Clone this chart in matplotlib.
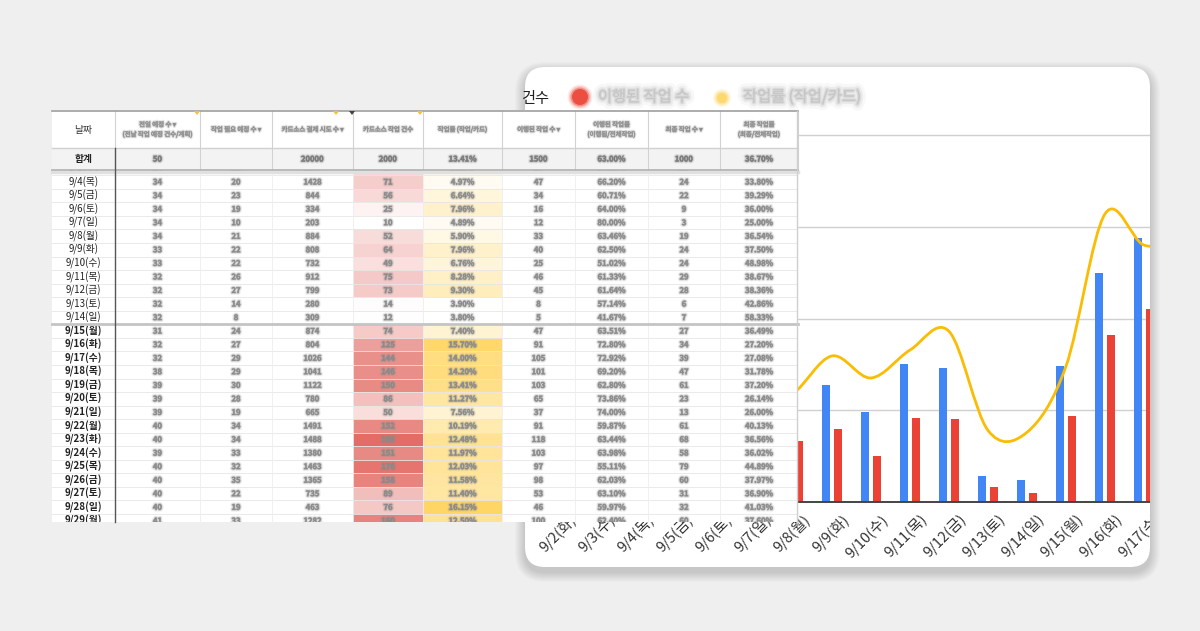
import matplotlib
matplotlib.use("Agg")
import matplotlib.pyplot as plt
import matplotlib.patheffects as pe
from matplotlib.patches import Rectangle, FancyBboxPatch, PathPatch, Circle, Polygon
from matplotlib.path import Path
from matplotlib.colors import LinearSegmentedColormap
from matplotlib.transforms import blended_transform_factory, ScaledTranslation, Bbox, TransformedBbox
import numpy as np

KR = ['Noto Sans CJK KR', 'DejaVu Sans']
plt.rcParams['font.family'] = KR

# ---- data: one entry per day, 9/2 .. 9/29 ----
dates = ['9/2(화)', '9/3(수)', '9/4(목)', '9/5(금)', '9/6(토)', '9/7(일)', '9/8(월)',
         '9/9(화)', '9/10(수)', '9/11(목)', '9/12(금)', '9/13(토)', '9/14(일)', '9/15(월)',
         '9/16(화)', '9/17(수)', '9/18(목)', '9/19(금)', '9/20(토)', '9/21(일)', '9/22(월)',
         '9/23(화)', '9/24(수)', '9/25(목)', '9/26(금)', '9/27(토)', '9/28(일)', '9/29(월)']
prev_plan = [34, 34, 34, 34, 34, 34, 34, 33, 33, 32, 32, 32, 32, 31, 32, 32, 38, 39,
             39, 39, 40, 40, 39, 40, 40, 40, 40, 41]
need_plan = [22, 21, 20, 23, 19, 10, 21, 22, 22, 26, 27, 14, 8, 24, 27, 29, 29, 30,
             28, 19, 34, 34, 33, 32, 35, 22, 19, 33]
pay_try = [1302, 1247, 1428, 844, 334, 203, 884, 808, 732, 912, 799, 280, 309, 874,
           804, 1026, 1041, 1122, 780, 665, 1491, 1488, 1380, 1463, 1365, 735, 463, 1282]
card_work = [62, 57, 71, 56, 25, 10, 52, 64, 49, 75, 73, 14, 12, 74, 125, 144, 146,
             150, 86, 50, 152, 186, 151, 176, 158, 89, 76, 160]
work_rate = [6.1, 5.6, 4.97, 6.64, 7.96, 4.89, 5.9, 7.96, 6.76, 8.28, 9.3, 3.9, 3.8,
             7.4, 15.7, 14.0, 14.2, 13.41, 11.27, 7.56, 10.19, 12.48, 11.97, 12.03,
             11.58, 11.40, 16.15, 12.5]
done_work = [40, 37, 47, 34, 16, 12, 33, 40, 25, 46, 45, 8, 5, 47, 91, 105, 101, 103,
             65, 37, 91, 118, 103, 97, 98, 53, 46, 100]
done_rate = [64.5, 64.9, 66.20, 60.71, 64.00, 80.00, 63.46, 62.50, 51.02, 61.33, 61.64,
             57.14, 41.67, 63.51, 72.80, 72.92, 69.20, 62.80, 73.86, 74.00, 59.87,
             63.44, 63.98, 55.11, 62.03, 63.10, 59.97, 62.4]
final_work = [22, 20, 24, 22, 9, 3, 19, 24, 24, 29, 28, 6, 7, 27, 34, 39, 47, 61, 23,
              13, 61, 68, 58, 79, 60, 31, 32, 60]
final_rate = [35.5, 35.1, 33.80, 39.29, 36.00, 25.00, 36.54, 37.50, 48.98, 38.67, 38.36,
              42.86, 58.33, 36.49, 27.20, 27.08, 31.78, 37.20, 26.14, 26.00, 40.13,
              36.56, 36.02, 44.89, 37.97, 36.90, 41.03, 37.6]

headers = ['날짜', '전일 예정 수 ▾\n(전날 작업 예정 건수/계획)', '작업 필요 예정 수 ▾',
           '카드소스 결제 시도 수 ▾', '카드소스 작업 건수', '작업률 (작업/카드)',
           '이행된 작업 수 ▾', '이행된 작업률\n(이행됨/전체작업)', '최종 작업 수 ▾',
           '최종 작업률\n(최종/전체작업)']
totals = ['합계', '50', '', '20000', '2000', '13.41%', '1500', '63.00%', '1000', '36.70%']

legend_labels = ['이행된 작업 수', '작업률 (작업/카드)']

n_chart = 17            # 9/2 .. 9/18 drawn in the chart (card clips the rest)
first_table_day = 1     # table is scrolled so 9/3 sits under the frozen rows

BLUE, RED, YELLOW = '#4285f4', '#ea4335', '#fbbc04'
W, H = 1200, 631


def px_box(x0, y0, x1, y1):
    # screen-pixel rectangle (top-left origin) -> display bbox for clipping
    return TransformedBbox(Bbox.from_extents(x0 / W, (H - y1) / H, x1 / W, (H - y0) / H),
                           fig.transFigure)


def blurred(color, width):
    # soft halo so the text reads like the blurred screenshot
    return [pe.Stroke(linewidth=width * 2.2, foreground=color, alpha=0.12),
            pe.Stroke(linewidth=width * 1.2, foreground=color, alpha=0.25),
            pe.Stroke(linewidth=width * 0.5, foreground=color, alpha=0.45),
            pe.Normal()]


def blur_text(ax, x, y, s, size, color='#888', width=1.0, clip=None, **kw):
    t = ax.text(x, y, s, fontsize=size, color=color, path_effects=blurred(color, width), **kw)
    if clip is not None:
        t.set_clip_box(clip)
        t.set_clip_on(True)
    return t


def smooth_path(xs, ys):
    pts = np.column_stack([xs, ys]).astype(float)
    verts, codes = [pts[0]], [Path.MOVETO]
    n = len(pts)
    for i in range(n - 1):
        p0 = pts[i - 1] if i > 0 else pts[i]
        p1, p2 = pts[i], pts[i + 1]
        p3 = pts[i + 2] if i + 2 < n else pts[i + 1]
        verts += [p1 + (p2 - p0) / 6, p2 - (p3 - p1) / 6, p2]
        codes += [Path.CURVE4] * 3
    return Path(verts, codes)


fig = plt.figure(figsize=(12, 6.31), dpi=100)
fig.patch.set_facecolor('#efefef')

# background layer, pixel coordinates
ax_bg = fig.add_axes([0, 0, 1, 1], zorder=0)
ax_bg.set_xlim(0, W)
ax_bg.set_ylim(H, 0)
ax_bg.axis('off')

# card with soft shadow
for i in range(1, 11):
    ax_bg.add_patch(FancyBboxPatch((525 - i, 67 - i + 5), 625 + 2 * i, 500 + 2 * i,
                                   boxstyle='round,pad=0,rounding_size=%d' % (20 + i),
                                   facecolor='black', edgecolor='none', alpha=0.017))
card = FancyBboxPatch((525, 67), 625, 500, boxstyle='round,pad=0,rounding_size=20',
                      facecolor='white', edgecolor='none')
ax_bg.add_patch(card)
card_box = px_box(525, 67, 1150, 567)

# chart title tail + legend (blurred in the screenshot)
t = ax_bg.text(521, 98, '건수', fontsize=11, color='#222', ha='left', va='center')
t.set_clip_box(card_box)
for r, a in [(12.5, 0.1), (11, 0.2), (9.5, 0.4), (8, 0.85)]:
    ax_bg.add_patch(Circle((580, 97), r, facecolor=RED, edgecolor='none', alpha=a))
for r, a in [(9.5, 0.1), (8, 0.22), (6.5, 0.4), (5, 0.7)]:
    ax_bg.add_patch(Circle((722, 98), r, facecolor='#fcd45c', edgecolor='none', alpha=a))
for s, x0 in zip(legend_labels, [598, 743]):
    blur_text(ax_bg, x0, 97, s, 11, color='#c6c6c6', width=4.0, ha='left', va='center')

# ---- chart ----
ax = fig.add_axes([539.5 / W, (H - 502) / H, 663 / W, 367 / H], zorder=2)
ax.patch.set_alpha(0)
ax.set_xlim(-0.5, n_chart - 0.5)
ax.set_ylim(0, 200)
ax.axis('off')

x = np.arange(n_chart)
for v in [50, 100, 150, 200]:
    ax.axhline(v, color='#d0d0d0', lw=1, clip_path=card)
b1 = ax.bar(x - 0.155, card_work[:n_chart], width=0.21, color=BLUE, zorder=3)
b2 = ax.bar(x + 0.155, done_work[:n_chart], width=0.21, color=RED, zorder=3)
for p in list(b1) + list(b2):
    p.set_clip_path(card)
ax.axhline(0, color='#444', lw=1.4, zorder=4, clip_path=card)

lab_tr = blended_transform_factory(ax.transData, ax.transAxes) + \
    ScaledTranslation(0.10, -0.10, fig.dpi_scale_trans)
for i in range(n_chart):
    t = ax.text(i, 0, dates[i], transform=lab_tr, rotation=45, rotation_mode='anchor',
                ha='right', va='top', fontsize=10.5, color='#333')
    t.set_clip_box(card_box)
    t.set_clip_on(True)

ax2 = ax.twinx()
ax2.set_zorder(2.5)
ax2.patch.set_alpha(0)
ax2.set_ylim(0, 20)
ax2.axis('off')
line = PathPatch(smooth_path(x, work_rate[:n_chart]), fill=False, edgecolor=YELLOW,
                 lw=2.0, capstyle='round', joinstyle='round', zorder=5)
ax2.add_patch(line)
line.set_clip_path(card)

# ---- spreadsheet layer, pixel coordinates ----
ax_t = fig.add_axes([0, 0, 1, 1], zorder=3)
ax_t.set_xlim(0, W)
ax_t.set_ylim(H, 0)
ax_t.patch.set_alpha(0)
ax_t.axis('off')

col_edges = [52, 115, 200, 272, 353, 423, 502, 575, 648, 720, 798]
tab_top, head_bot, sum_bot, tab_bot = 111, 148, 170, 522
row_h = 13.55
row0 = 168.5
centers = [(col_edges[c] + col_edges[c + 1]) / 2 for c in range(len(col_edges) - 1)]

ax_t.add_patch(Rectangle((52, 110), 746, tab_bot - 110, facecolor='white', edgecolor='none'))
data_clip = Rectangle((52, sum_bot), 746, tab_bot - sum_bot, transform=ax_t.transData)
data_box = px_box(52, sum_bot, 798, tab_bot)

reds = LinearSegmentedColormap.from_list('reds', ['#ffffff', '#e36d66'])
yels = LinearSegmentedColormap.from_list('yels', ['#ffffff', '#ffd666'])
tab_days = range(first_table_day, len(dates))
cw = [card_work[j] for j in tab_days]
wr = [work_rate[j] for j in tab_days]

for k, j in enumerate(tab_days):
    yc = row0 + row_h * k
    y0 = yc - row_h / 2
    for c, cmap, vals in [(4, reds, cw), (5, yels, wr)]:
        f = (vals[k] - min(vals)) / (max(vals) - min(vals))
        r = Rectangle((col_edges[c], y0), col_edges[c + 1] - col_edges[c], row_h,
                      facecolor=cmap(f), edgecolor='none')
        ax_t.add_patch(r)
        r.set_clip_path(data_clip)
    ln = ax_t.plot([52, 798], [y0 + row_h, y0 + row_h], color='#e6e6e6', lw=0.6)[0]
    ln.set_clip_path(data_clip)

    t = ax_t.text(centers[0], yc, dates[j], fontsize=7, color='#222', ha='center',
                  va='center', fontweight='bold' if j >= 13 else 'normal')
    t.set_clip_box(data_box)
    t.set_clip_on(True)
    cells = [prev_plan[j], need_plan[j], pay_try[j], card_work[j],
             '%.2f%%' % work_rate[j], done_work[j], '%.2f%%' % done_rate[j],
             final_work[j], '%.2f%%' % final_rate[j]]
    for c, s in enumerate(cells, start=1):
        blur_text(ax_t, centers[c], yc, str(s), 5.5, color='#8a8a8a', width=1.3,
                  ha='center', va='center', fontweight='bold', clip=data_box)

for xe in col_edges[2:-1]:
    ln = ax_t.plot([xe, xe], [sum_bot, tab_bot], color='#eeeeee', lw=0.6)[0]
    ln.set_clip_path(data_clip)

# frozen header + total rows
ax_t.add_patch(Rectangle((52, tab_top), 746, head_bot - tab_top, facecolor='white',
                         edgecolor='none', zorder=4))
ax_t.add_patch(Rectangle((52, head_bot), 746, sum_bot - head_bot, facecolor='#f3f3f3',
                         edgecolor='none', zorder=4))
for xe in col_edges[1:]:
    ax_t.plot([xe, xe], [tab_top, sum_bot], color='#d2d2d2', lw=0.8, zorder=5)
ax_t.plot([52, 798], [tab_top, tab_top], color='#9e9e9e', lw=1.2, zorder=5)
ax_t.plot([52, 798], [head_bot, head_bot], color='#d0d0d0', lw=1, zorder=5)
ax_t.plot([52, 798], [sum_bot + 1.5, sum_bot + 1.5], color='#e0e0e0', lw=2.5, zorder=5)
ax_t.plot([52, 798], [sum_bot, sum_bot], color='#b5b5b5', lw=1.3, zorder=5)
sep = row0 + row_h * 11.5
ax_t.plot([52, 798], [sep, sep], color='#c4c4c4', lw=2, zorder=5)
ax_t.plot([115, 115], [head_bot, tab_bot], color='#555', lw=1, zorder=5)
ax_t.plot([797, 797], [tab_top, tab_bot], color='#cfcfcf', lw=1, zorder=5)

ax_t.text(centers[0], (tab_top + head_bot) / 2, headers[0], fontsize=7, color='#333',
          ha='center', va='center', zorder=6)
ax_t.text(centers[0], (head_bot + sum_bot) / 2, totals[0], fontsize=7, color='#222',
          ha='center', va='center', fontweight='bold', zorder=6)
for c in range(1, len(headers)):
    blur_text(ax_t, centers[c], (tab_top + head_bot) / 2, headers[c], 4.6, color='#8a8a8a',
              width=1.1, ha='center', va='center', linespacing=1.3, zorder=6)
    if totals[c]:
        blur_text(ax_t, centers[c], (head_bot + sum_bot) / 2, totals[c], 5.5,
                  color='#7a7a7a', width=1.3, ha='center', va='center',
                  fontweight='bold', zorder=6)

# filter markers along the header top
for xm, colr in [(197, '#f2c230'), (336, '#f2c230'), (352, '#444'), (420, '#f2c230')]:
    ax_t.add_patch(Polygon([(xm - 3, tab_top), (xm + 3, tab_top), (xm, tab_top + 4)],
                           closed=True, facecolor=colr, edgecolor='none', zorder=7))

fig.savefig('out.png', dpi=100, facecolor=fig.get_facecolor())
